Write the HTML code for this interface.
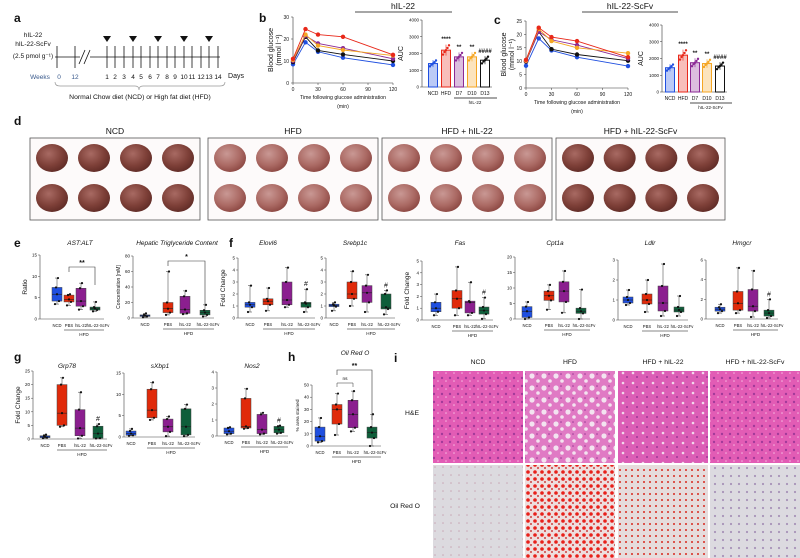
<!DOCTYPE html>
<html><head><meta charset="utf-8"><style>
body{margin:0;background:#fff}
svg{display:block;font-family:"Liberation Sans",sans-serif}
</style></head><body>
<svg id="fig" width="800" height="558" viewBox="0 0 800 558" xmlns="http://www.w3.org/2000/svg">
<defs>
<radialGradient id="liver" cx="40%" cy="35%" r="70%"><stop offset="0" stop-color="#a86a63"/><stop offset="0.6" stop-color="#7e4038"/><stop offset="1" stop-color="#5e2a25"/></radialGradient>
<radialGradient id="liverHfd" cx="40%" cy="35%" r="70%"><stop offset="0" stop-color="#c99894"/><stop offset="0.6" stop-color="#ab6a64"/><stop offset="1" stop-color="#8a4540"/></radialGradient>
<pattern id="he" width="8" height="8" patternUnits="userSpaceOnUse"><rect width="8" height="8" fill="#e25cb5"/><circle cx="2" cy="2" r="1.2" fill="#a23a9a"/><circle cx="6" cy="5" r="0.8" fill="#f6b6e0"/></pattern>
<pattern id="heFat" width="12" height="12" patternUnits="userSpaceOnUse"><rect width="12" height="12" fill="#e07ac4"/><circle cx="4" cy="4" r="2.6" fill="#f3e3f0"/><circle cx="10" cy="9" r="1.8" fill="#f3e3f0"/><circle cx="9" cy="2" r="0.8" fill="#9a3a96"/></pattern>
<pattern id="heMid" width="10" height="10" patternUnits="userSpaceOnUse"><rect width="10" height="10" fill="#dc5eb6"/><circle cx="3" cy="3" r="1.3" fill="#f3d8ec"/><circle cx="7" cy="7" r="1" fill="#9a3a96"/></pattern>
<pattern id="orNcd" width="8" height="8" patternUnits="userSpaceOnUse"><rect width="8" height="8" fill="#dcdadf"/><circle cx="3" cy="3" r="0.8" fill="#c8a7b6"/></pattern>
<pattern id="orHfd" width="7" height="7" patternUnits="userSpaceOnUse"><rect width="7" height="7" fill="#eedede"/><circle cx="3" cy="3" r="1.8" fill="#e8201a"/><circle cx="6" cy="6" r="0.9" fill="#c11010"/></pattern>
<pattern id="orMid" width="6" height="6" patternUnits="userSpaceOnUse"><rect width="6" height="6" fill="#e6dcdc"/><circle cx="2" cy="2" r="1" fill="#d8281e"/></pattern>
<pattern id="orScf" width="8" height="8" patternUnits="userSpaceOnUse"><rect width="8" height="8" fill="#dcdae0"/><circle cx="3" cy="4" r="1.1" fill="#a893b8"/></pattern>
</defs>
<g id="root"></g>
</svg>
<script>
// ---------- data ----------
const times = [0, 15, 30, 60, 120];
const lineColors = ['#1f4fe0', '#111111', '#8b2a95', '#f5a623', '#e8281a'];
const bNcd = [8.5, 18.5, 14.2, 11.5, 8.2];
const bD13 = [9.5, 21, 14.8, 13, 10];
const bD7 = [10, 21.5, 18, 15.8, 11];
const bD10 = [10.5, 22, 17, 15, 12.5];
const bHfd = [11, 24.5, 22, 21, 12.8];
const cNcd = [8.3, 18.5, 14, 11.5, 8.2];
const cD13 = [9.8, 21, 14.5, 12.5, 10.2];
const cD7 = [10, 21, 18, 16, 11];
const cD10 = [10.2, 22, 17.5, 15, 13];
const cHfd = [10.5, 22.5, 19, 17.5, 11.5];
const aucGroups = ['NCD', 'HFD', 'D7', 'D10', 'D13'];
const aucColors = ['#1f4fe0', '#e8281a', '#8b2a95', '#f5a623', '#111111'];
const bAuc = [1400, 2200, 1800, 1800, 1600];
const cAuc = [1450, 2200, 1750, 1700, 1550];
const aucStars = ['', '****', '**', '**', '####'];
const boxGroups = ['NCD', 'PBS', 'hIL-22', 'hIL-22-ScFv'];
const boxColors = ['#1f4fe0', '#e02a0a', '#8b1f8f', '#0e5e3a'];
const astAlt = [[3.5,4.2,5.8,7.4,9.6],[3.2,4,4.6,5.6,5.8],[2.2,3,4.2,7.2,8.4],[1.8,2.1,2.5,2.8,4]];
const trig = [[1,2,3,4,6],[4,7,12,20,60],[5,6,11,28,35],[2,4,7,10,17]];
const elovl6 = [[0.5,0.9,1.1,1.3,2.7],[0.6,1.1,1.4,1.6,2.5],[0.9,1.1,1.5,3,4.2],[0.5,0.9,1.2,1.3,2.4]];
const srebp1c = [[0.6,0.95,1.05,1.15,1.3],[1,1.6,2,3,3.9],[0.5,1.3,2.1,2.7,3.6],[0.3,0.75,0.9,2,2.3]];
const fas = [[0.4,0.7,1,1.5,2.2],[0.4,1,1.8,2.5,4.5],[0.4,0.6,1.5,1.6,3.2],[0.1,0.5,0.8,1.1,1.9]];
const cpt1a = [[0,0.5,2.5,4,5.5],[3,6,7.5,9,11],[2,5.5,9,12,15.5],[0,1.8,2.5,3.5,9.5]];
const ldlr = [[0.75,0.85,1,1.15,1.5],[0.4,0.8,1,1.3,2],[0.2,0.45,0.85,1.7,2.8],[0.2,0.4,0.5,0.65,1.2]];
const hmgcr = [[0.6,0.8,1,1.2,1.5],[0.6,0.9,1.6,2.8,5.2],[0.2,0.8,1.3,3,4.9],[0.1,0.3,0.6,0.9,2]];
const grp78 = [[0.3,0.5,0.8,1.2,1.6],[4.5,5,9.5,20,22.5],[0.2,1.2,4,10.8,17.2],[0.2,0.3,2,4.7,5.5]];
const sxbp1 = [[0.3,0.4,0.8,1.4,1.9],[4,4.5,6.3,11.2,12.8],[0.2,1.2,2.4,4.2,4.8],[0.2,0.5,2.4,6.6,7.6]];
const nos2 = [[0.1,0.15,0.3,0.5,0.55],[0.45,0.5,0.6,2.35,2.95],[0.1,0.15,0.4,1.35,1.45],[0.15,0.2,0.4,0.6,0.65]];
const oro = [[3,4,8,15.5,23],[9,18,30,34,43],[12,15,26,37.5,45],[0,6.5,11,15.5,26]];

// ---------- helpers ----------
const NS = 'http://www.w3.org/2000/svg';
const root = document.getElementById('root');
function mk(tag, attrs, parent) {
  const e = document.createElementNS(NS, tag);
  for (const k in attrs) e.setAttribute(k, attrs[k]);
  (parent || root).appendChild(e);
  return e;
}
function txt(x, y, s, size, opts, parent) {
  const o = Object.assign({x: x, y: y, 'font-size': size, 'text-anchor': 'middle', fill: '#111'}, opts || {});
  const t = mk('text', o, parent);
  t.textContent = s;
  return t;
}
function grp(name) {
  const g = mk('g', {});
  
  
  return g;
}
function panelLabel(x, y, s) {
  const t = txt(x, y, s, 12, {'font-weight': 'bold', 'text-anchor': 'start'});
  
  
}

// ---------- panel a ----------
(function () {
  panelLabel(14, 22, 'a');
  const g = grp('timeline-panel');
  txt(33, 37, 'hIL-22', 6.5, {}, g);
  txt(33, 46, 'hIL-22-ScFv', 6.5, {}, g);
  txt(33, 58, '(2.5 pmol g⁻¹)', 6.5, {}, g);
  mk('line', {x1: 55, y1: 57, x2: 220, y2: 57, stroke: '#111', 'stroke-width': 0.8}, g);
  const ticks = [57, 75, 107, 115, 124, 133, 141, 150, 158, 167, 175, 184, 192, 201, 209, 218];
  ticks.forEach(x => mk('line', {x1: x, y1: 46, x2: x, y2: 68, stroke: '#111', 'stroke-width': 0.8}, g));
  mk('rect', {x: 80, y: 50, width: 10, height: 14, fill: '#fff'}, g);
  mk('line', {x1: 79, y1: 64, x2: 85, y2: 50, stroke: '#111', 'stroke-width': 0.8}, g);
  mk('line', {x1: 84, y1: 64, x2: 90, y2: 50, stroke: '#111', 'stroke-width': 0.8}, g);
  [107, 133, 158, 184, 209].forEach(x => mk('polygon', {points: (x-4)+',36 '+(x+4)+',36 '+x+',42', fill: '#111'}, g));
  txt(40, 79, 'Weeks', 6.5, {fill: '#3a5a8c'}, g);
  txt(59, 79, '0', 6.5, {fill: '#3a5a8c'}, g);
  txt(75, 79, '12', 6.5, {fill: '#3a5a8c'}, g);
  for (let i = 1; i <= 14; i++) txt(ticks[i+1], 79, String(i), 6.5, {}, g);
  txt(236, 78, 'Days', 7, {}, g);
  mk('path', {d: 'M55,82 Q55,86 60,86 L135,86 Q139,86 139,90 Q139,86 143,86 L220,86 Q225,86 225,82', fill: 'none', stroke: '#999', 'stroke-width': 0.7}, g);
  txt(140, 99, 'Normal Chow diet (NCD) or High fat diet (HFD)', 6.8, {}, g);
})();

// ---------- line chart ----------
function lineChart(name, ax, series, ymax, yticks) {
  const g = grp(name);
  const sx = v => ax.x0 + (v / 120) * (ax.x1 - ax.x0);
  const sy = v => ax.yb - (v / ymax) * (ax.yb - ax.yt);
  mk('line', {x1: ax.x0, y1: ax.yt, x2: ax.x0, y2: ax.yb, stroke: '#333', 'stroke-width': 0.6}, g);
  mk('line', {x1: ax.x0, y1: ax.yb, x2: ax.x1, y2: ax.yb, stroke: '#333', 'stroke-width': 0.6}, g);
  yticks.forEach(v => { mk('line', {x1: ax.x0-2, y1: sy(v), x2: ax.x0, y2: sy(v), stroke: '#333', 'stroke-width': 0.5}, g); txt(ax.x0-4, sy(v)+2, String(v), 5, {'text-anchor': 'end'}, g); });
  [0, 30, 60, 90, 120].forEach(v => { mk('line', {x1: sx(v), y1: ax.yb, x2: sx(v), y2: ax.yb+2, stroke: '#333', 'stroke-width': 0.5}, g); txt(sx(v), ax.yb+8, String(v), 5, {}, g); });
  txt(ax.x0+(ax.x1-ax.x0)/2, ax.yb+16, 'Time following glucose administration', 5.2, {}, g);
  txt(ax.x0+(ax.x1-ax.x0)/2, ax.yb+25, '(min)', 5.2, {}, g);
  txt(0, 0, 'Blood glucose', 7, {transform: 'translate('+(ax.x0-20)+','+((ax.yt+ax.yb)/2)+') rotate(-90)'}, g);
  txt(0, 0, '(mmol l⁻¹)', 7, {transform: 'translate('+(ax.x0-12)+','+((ax.yt+ax.yb)/2)+') rotate(-90)'}, g);
  series.forEach((s, i) => {
    const pts = times.map((t, j) => sx(t) + ',' + sy(s[j])).join(' ');
    const pl = mk('polyline', {points: pts, fill: 'none', stroke: lineColors[i], 'stroke-width': 0.9}, g);
    
    
    times.forEach((t, j) => {
      const c = mk('circle', {cx: sx(t), cy: sy(s[j]), r: 2.2, fill: lineColors[i]}, g);
      
      
    });
  });
}
lineChart('glucose-chart-b', {x0: 293, x1: 393, yt: 17, yb: 83}, [bNcd, bD13, bD7, bD10, bHfd], 30, [0, 10, 20, 30]);
lineChart('glucose-chart-c', {x0: 526, x1: 628, yt: 21, yb: 88}, [cNcd, cD13, cD7, cD10, cHfd], 25, [0, 5, 10, 15, 20, 25]);

// ---------- AUC bars ----------
function aucChart(name, ax, centers, vals, groupLabel) {
  const g = grp(name);
  const sy = v => ax.yb - (v / 4000) * (ax.yb - ax.yt);
  mk('line', {x1: ax.x0, y1: ax.yt, x2: ax.x0, y2: ax.yb, stroke: '#333', 'stroke-width': 0.6}, g);
  mk('line', {x1: ax.x0, y1: ax.yb, x2: centers[4]+7, y2: ax.yb, stroke: '#333', 'stroke-width': 0.6}, g);
  [0, 1000, 2000, 3000, 4000].forEach(v => { mk('line', {x1: ax.x0-2, y1: sy(v), x2: ax.x0, y2: sy(v), stroke: '#333', 'stroke-width': 0.5}, g); txt(ax.x0-3, sy(v)+1.5, String(v), 4.5, {'text-anchor': 'end'}, g); });
  txt(0, 0, 'AUC', 7, {transform: 'translate('+(ax.x0-19)+','+((ax.yt+ax.yb)/2)+') rotate(-90)'}, g);
  vals.forEach((v, i) => {
    const c = centers[i];
    const b = mk('rect', {x: c-4.5, y: sy(v), width: 9, height: ax.yb - sy(v), fill: i === 4 ? '#fff' : aucColors[i], 'fill-opacity': i === 4 ? 1 : 0.3, stroke: aucColors[i], 'stroke-width': 1}, g);
    
    
    [-0.12, -0.05, 0, 0.06, 0.13].forEach((d, k) => mk('circle', {cx: c - 3 + k*1.5, cy: sy(v*(1+d)), r: 1.2, fill: aucColors[i]}, g));
    mk('line', {x1: c, y1: sy(v*1.15), x2: c, y2: sy(v*0.85), stroke: aucColors[i], 'stroke-width': 0.6}, g);
    txt(c, ax.yb+8, aucGroups[i], 5, {}, g);
    if (aucStars[i]) txt(c, sy(v*1.2)-2, aucStars[i], 6, {'font-weight': 'bold'}, g);
  });
  mk('line', {x1: centers[2]-5, y1: ax.yb+11, x2: centers[4]+12, y2: ax.yb+11, stroke: '#111', 'stroke-width': 0.7}, g);
  txt((centers[2]+centers[4])/2+3, ax.yb+17, groupLabel, 4.5, {}, g);
}
aucChart('auc-chart-b', {x0: 422, yt: 20, yb: 87}, [433, 446, 459, 472, 485], bAuc, 'hIL-22');
aucChart('auc-chart-c', {x0: 662, yt: 25, yb: 92}, [670, 683, 695, 707, 720], cAuc, 'hIL-22-ScFv');
panelLabel(259, 22, 'b');
panelLabel(494, 24, 'c');
mk('line', {x1: 355, y1: 12, x2: 452, y2: 12, stroke: '#111', 'stroke-width': 0.7});
txt(403, 9, 'hIL-22', 8.5);
mk('line', {x1: 582, y1: 12, x2: 678, y2: 12, stroke: '#111', 'stroke-width': 0.7});
txt(630, 9, 'hIL-22-ScFv', 8.5);

// ---------- panel d livers ----------
(function () {
  panelLabel(14, 125, 'd');
  const boxes = [[30, 200, 'NCD', 'url(#liver)'], [208, 378, 'HFD', 'url(#liverHfd)'], [382, 552, 'HFD + hIL-22', 'url(#liverHfd)'], [556, 725, 'HFD + hIL-22-ScFv', 'url(#liver)']];
  boxes.forEach((b, bi) => {
    const g = grp('liver-photo-' + bi);
    txt((b[0]+b[1])/2, 134, b[2], 8.5, {}, g);
    mk('rect', {x: b[0], y: 138, width: b[1]-b[0], height: 82, fill: '#fdfafa', stroke: '#555', 'stroke-width': 0.8}, g);
    for (let r = 0; r < 2; r++) for (let c = 0; c < 4; c++) {
      const cx = b[0] + 22 + c * ((b[1]-b[0]-44)/3);
      mk('ellipse', {cx: cx, cy: 158 + r*40, rx: 16, ry: 14, fill: b[3]}, g);
    }
  });
})();

// ---------- box plots ----------
function boxChart(name, ax, centers, data, ymax, yticks, opts) {
  opts = opts || {};
  const g = grp(name);
  const sy = v => ax.yb - (v / ymax) * (ax.yb - ax.yt);
  mk('line', {x1: ax.x0, y1: ax.yt, x2: ax.x0, y2: ax.yb, stroke: '#444', 'stroke-width': 0.6}, g);
  mk('line', {x1: ax.x0, y1: ax.yb, x2: centers[3]+9, y2: ax.yb, stroke: '#444', 'stroke-width': 0.6}, g);
  yticks.forEach(v => { mk('line', {x1: ax.x0-2, y1: sy(v), x2: ax.x0, y2: sy(v), stroke: '#444', 'stroke-width': 0.5}, g); txt(ax.x0-3, sy(v)+1.5, String(v), 4.5, {'text-anchor': 'end'}, g); });
  if (opts.ylabel) txt(0, 0, opts.ylabel, opts.ylsize || 6.5, {transform: 'translate('+(ax.x0-13)+','+((ax.yt+ax.yb)/2)+') rotate(-90)'}, g);
  if (opts.title) txt(opts.tx, opts.ty, opts.title, 6.5, {'font-style': 'italic'}, g);
  const w = 10;
  data.forEach((d, i) => {
    const c = centers[i];
    mk('line', {x1: c, y1: sy(d[0]), x2: c, y2: sy(d[4]), stroke: '#555', 'stroke-width': 0.6}, g);
    mk('line', {x1: c-2, y1: sy(d[0]), x2: c+2, y2: sy(d[0]), stroke: '#555', 'stroke-width': 0.6}, g);
    mk('line', {x1: c-2, y1: sy(d[4]), x2: c+2, y2: sy(d[4]), stroke: '#555', 'stroke-width': 0.6}, g);
    const b = mk('rect', {x: c-w/2, y: sy(d[3]), width: w, height: Math.max(0.5, sy(d[1]) - sy(d[3])), fill: boxColors[i], stroke: '#444', 'stroke-width': 0.5}, g);
    
    
    mk('line', {x1: c-w/2, y1: sy(d[2]), x2: c+w/2, y2: sy(d[2]), stroke: '#222', 'stroke-width': 0.6}, g);
    d.forEach((v, k) => mk('circle', {cx: c + [-2, 2, 0, -1, 1][k], cy: sy(v), r: 1.1, fill: '#111'}, g));
    txt(c + (i === 3 ? 3 : 0), ax.yb+8, boxGroups[i], 4.2, {}, g);
  });
  mk('line', {x1: centers[1]-5, y1: ax.yb+11, x2: centers[3]+9, y2: ax.yb+11, stroke: '#111', 'stroke-width': 0.6}, g);
  txt((centers[1]+centers[3])/2+2, ax.yb+17, 'HFD', 4.6, {}, g);
  if (opts.hash) txt(centers[3], sy(data[3][4])-3, '#', 7, {}, g);
  if (opts.bracket) {
    const br = opts.bracket;
    const yb = br.y;
    mk('path', {d: 'M'+centers[br.a]+','+(yb+5)+' L'+centers[br.a]+','+yb+' L'+centers[br.b]+','+yb+' L'+centers[br.b]+','+(yb+br.drop), fill: 'none', stroke: '#333', 'stroke-width': 0.6}, g);
    txt((centers[br.a]+centers[br.b])/2, yb-2, br.s, 7, {'font-weight': 'bold'}, g);
  }
}
panelLabel(14, 247, 'e');
panelLabel(229, 247, 'f');
boxChart('ast-alt-chart', {x0: 40, yt: 255, yb: 319}, [57, 69, 81, 95], astAlt, 15, [0, 5, 10, 15], {ylabel: 'Ratio', title: 'AST:ALT', tx: 80, ty: 245, bracket: {a: 1, b: 3, y: 267, drop: 18, s: '**'}});
boxChart('triglyceride-chart', {x0: 133, yt: 256, yb: 318}, [145, 168, 185, 205], trig, 80, [0, 20, 40, 60, 80], {ylabel: 'Concentration [mM]', ylsize: 5, title: 'Hepatic Triglyceride Content', tx: 177, ty: 245, bracket: {a: 1, b: 3, y: 261, drop: 45, s: '*'}});
boxChart('elovl6-chart', {x0: 238, yt: 258, yb: 318}, [250, 268, 287, 306], elovl6, 5, [0, 1, 2, 3, 4, 5], {ylabel: 'Fold Change', title: 'Elovl6', tx: 268, ty: 245, hash: true});
boxChart('srebp1c-chart', {x0: 326, yt: 258, yb: 318}, [334, 352, 367, 386], srebp1c, 5, [0, 1, 2, 3, 4, 5], {title: 'Srebp1c', tx: 355, ty: 245, hash: true});
boxChart('fas-chart', {x0: 422, yt: 261, yb: 320}, [436, 457, 470, 484], fas, 5, [0, 1, 2, 3, 4, 5], {ylabel: 'Fold Change', title: 'Fas', tx: 460, ty: 245, hash: true});
boxChart('cpt1a-chart', {x0: 515, yt: 257, yb: 319}, [527, 549, 564, 581], cpt1a, 20, [0, 5, 10, 15, 20], {title: 'Cpt1a', tx: 555, ty: 245});
boxChart('ldlr-chart', {x0: 618, yt: 260, yb: 320}, [628, 647, 663, 679], ldlr, 3, [0, 1, 2, 3], {title: 'Ldlr', tx: 650, ty: 245});
boxChart('hmgcr-chart', {x0: 706, yt: 260, yb: 319}, [720, 738, 753, 769], hmgcr, 6, [0, 2, 4, 6], {title: 'Hmgcr', tx: 742, ty: 245, hash: true});
panelLabel(14, 361, 'g');
boxChart('grp78-chart', {x0: 33, yt: 371, yb: 439}, [45, 62, 80, 98], grp78, 25, [0, 5, 10, 15, 20, 25], {ylabel: 'Fold Change', title: 'Grp78', tx: 67, ty: 368, hash: true});
boxChart('sxbp1-chart', {x0: 124, yt: 373, yb: 437}, [131, 152, 168, 186], sxbp1, 15, [0, 5, 10, 15], {title: 'sXbp1', tx: 160, ty: 368});
boxChart('nos2-chart', {x0: 217, yt: 372, yb: 436}, [229, 246, 262, 279], nos2, 4, [0, 1, 2, 3, 4], {title: 'Nos2', tx: 252, ty: 368, hash: true});
panelLabel(288, 361, 'h');
boxChart('oil-red-o-chart', {x0: 312, yt: 385, yb: 446}, [320, 337, 353, 372], oro, 50, [0, 10, 20, 30, 40, 50], {ylabel: '% area stained', ylsize: 4.8, title: 'Oil Red O', tx: 355, ty: 355, bracket: {a: 1, b: 3, y: 370, drop: 50, s: '**'}});
mk('path', {d: 'M337,387 L337,383 L353,383 L353,387', fill: 'none', stroke: '#333', 'stroke-width': 0.5});
txt(345, 380, 'ns', 4.8);

// ---------- panel i histology ----------
(function () {
  panelLabel(394, 362, 'i');
  const xs = [433, 525, 618, 710];
  const titles = ['NCD', 'HFD', 'HFD + hIL-22', 'HFD + hIL-22-ScFv'];
  const he = ['url(#he)', 'url(#heFat)', 'url(#heMid)', 'url(#he)'];
  const or = ['url(#orNcd)', 'url(#orHfd)', 'url(#orMid)', 'url(#orScf)'];
  const g = grp('histology-grid');
  xs.forEach((x, i) => {
    txt(x + 45, 364, titles[i], 6.8, {}, g);
    mk('rect', {x: x, y: 371, width: 90, height: 92, fill: he[i]}, g);
    mk('rect', {x: x, y: 465, width: 90, height: 93, fill: or[i]}, g);
  });
  txt(412, 415, 'H&E', 6.8, {}, g);
  txt(405, 508, 'Oil Red O', 6.8, {}, g);
})();
</script>
</body></html>
